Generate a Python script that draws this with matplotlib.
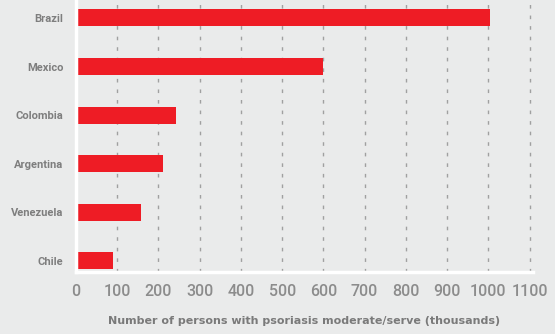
import matplotlib.pyplot as plt
import numpy as np

countries = ['Brazil', 'Mexico', 'Colombia', 'Argentina', 'Venezuela', 'Chile']
persons = [1003, 600, 242, 211, 157, 90]
xticks = [0, 100, 200, 300, 400, 500, 600, 700, 800, 900, 1000, 1100]

bg = '#eaebeb'
red = '#ee1c25'
grey = '#8c8c8c'

plt.rcParams['font.family'] = ['Roboto', 'DejaVu Sans']

fig = plt.figure(figsize=(5.55, 3.34), dpi=100, facecolor=bg)
ax = fig.add_axes([0.137, 0.186, 0.823, 0.814], facecolor=bg)

y = np.arange(len(countries))
ax.barh(y, persons, height=0.35, color=red, zorder=3)

# dashed vertical guides
for t in xticks[1:]:
    ax.axvline(t, color='#a0a0a0', lw=1.0, dashes=(2.6, 5.0), zorder=1)

ax.set_xlim(0, 1108)
ax.set_ylim(5.23, -0.37)
ax.set_yticks(y)
ax.set_yticklabels(countries, fontsize=8, color='#7e7e7e', fontweight='bold')
ax.set_xticks(xticks)
ax.set_xticklabels([str(t) for t in xticks], fontsize=11.5, color=grey,
                   fontweight='medium')
ax.tick_params(axis='both', length=0)
ax.tick_params(axis='y', pad=9)
ax.tick_params(axis='x', pad=9)

for s in ['top', 'right']:
    ax.spines[s].set_visible(False)
for s in ['left', 'bottom']:
    ax.spines[s].set_color('white')
    ax.spines[s].set_linewidth(2.5)
    ax.spines[s].set_zorder(4)

ax.set_xlabel('Number of persons with psoriasis moderate/serve (thousands)',
              fontsize=8, color='#7a7a7a', fontweight='bold', labelpad=12,
              family='DejaVu Sans')

fig.savefig('out.png', dpi=100, facecolor=bg)
